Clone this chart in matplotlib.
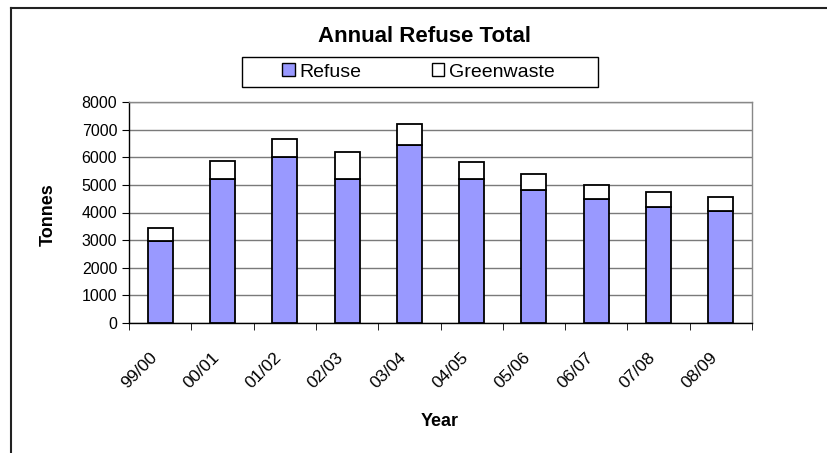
import matplotlib
matplotlib.use("Agg")
import matplotlib.pyplot as plt
import matplotlib.transforms as mtransforms
from matplotlib.lines import Line2D
from matplotlib.patches import Patch, Rectangle
import numpy as np

plt.rcParams['font.family'] = ['Liberation Sans', 'DejaVu Sans']

# Data
years = ["99/00", "00/01", "01/02", "02/03", "03/04", "04/05", "05/06", "06/07", "07/08", "08/09"]
refuse = [2980, 5200, 6000, 5200, 6460, 5200, 4800, 4490, 4210, 4070]
greenwaste = [460, 680, 670, 1000, 750, 620, 610, 520, 540, 480]

fig = plt.figure(figsize=(8.27, 4.53), dpi=100)
W, H = 827, 453
ax = fig.add_axes([129 / W, 1 - 323 / H, (752 - 129) / W, (323 - 102) / H])

x = np.arange(len(years))
ax.bar(x, refuse, width=0.4, color="#9999ff", edgecolor="black", linewidth=1.3, zorder=3)
ax.bar(x, greenwaste, width=0.4, bottom=refuse, color="white", edgecolor="black", linewidth=1.3, zorder=3)

ax.set_xlim(-0.5, len(years) - 0.5)
ax.set_ylim(0, 8000)
ax.set_yticks(range(0, 8001, 1000))
ax.yaxis.grid(True, color="#7a7a7a", linewidth=1.0, zorder=0)
ax.set_axisbelow(True)

ax.set_xticks(x)
ax.set_xticklabels(years, rotation=45, ha="right", rotation_mode="anchor", fontsize=12.5)
ax.set_xticks(np.arange(-0.5, len(years)), minor=True)
ax.tick_params(axis="x", which="major", length=0, pad=19)
ax.tick_params(axis="x", which="minor", length=5, direction="out", color="black")
ax.tick_params(axis="y", length=5, direction="out", labelsize=11.5)

# nudge rotated labels left like the original
shift = mtransforms.ScaledTranslation(-11 / 100, 0, fig.dpi_scale_trans)
for lbl in ax.get_xticklabels():
    lbl.set_transform(lbl.get_transform() + shift)

ax.spines["left"].set_color("black")
ax.spines["bottom"].set_color("black")
ax.spines["top"].set_color("#888888")
ax.spines["right"].set_color("#888888")
for s in ax.spines.values():
    s.set_linewidth(1.0)

fig.text(48 / W, 1 - 215 / H, "Tonnes", rotation=90, ha="center", va="center",
         fontsize=13, fontweight="bold")
fig.text(440 / W, 1 - 421 / H, "Year", ha="center", va="center",
         fontsize=13, fontweight="bold")

fig.text(425 / W, 1 - 36 / H, "Annual Refuse Total", ha="center", va="center",
         fontsize=16, fontweight="bold")

# legend
handles = [Patch(facecolor="#9999ff", edgecolor="black", label="Refuse"),
           Patch(facecolor="white", edgecolor="black", label="Greenwaste")]
leg = fig.legend(handles=handles, loc="center", bbox_to_anchor=(418.5 / W, 1 - 72 / H),
                 ncol=2, fontsize=14, frameon=False,
                 handlelength=0.65, handleheight=0.65, handletextpad=0.25,
                 columnspacing=3.6, borderpad=0.0)
fig.add_artist(Rectangle((242 / W, 1 - 87 / H), 356 / W, 30 / H, transform=fig.transFigure,
                         facecolor="none", edgecolor="black", linewidth=1.0))

# outer chart border (left and top visible)
fig.add_artist(Line2D([11 / W, 11 / W], [0, 1 - 8 / H], color="#222222", linewidth=1.5))
fig.add_artist(Line2D([11 / W, 1], [1 - 8 / H, 1 - 8 / H], color="#222222", linewidth=1.5))

fig.savefig("out.png", dpi=100)
